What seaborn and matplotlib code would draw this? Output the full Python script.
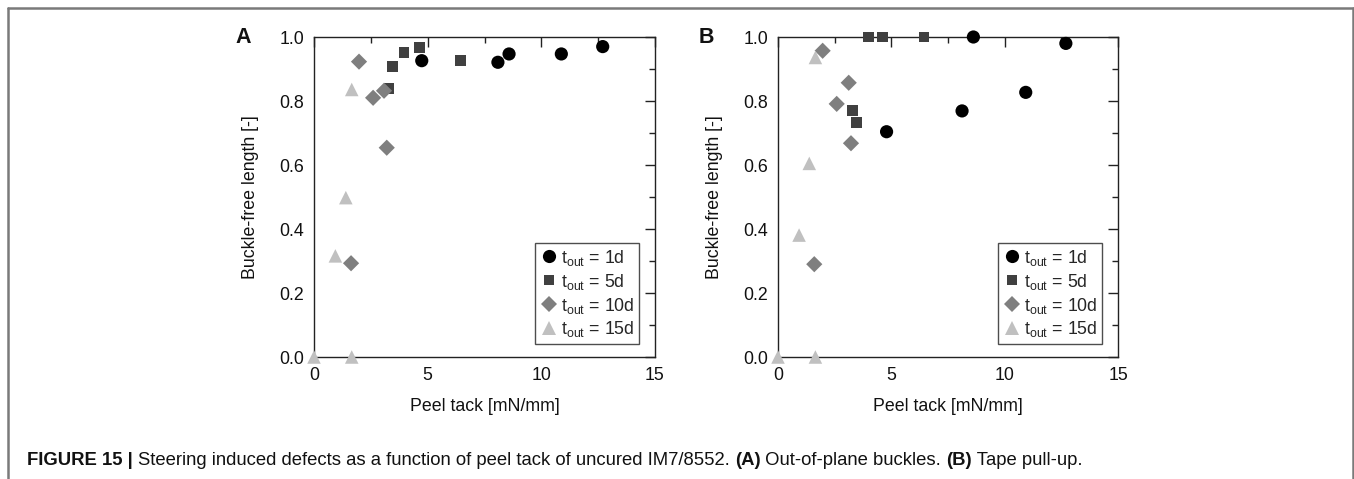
import numpy as np
import pandas as pd
import seaborn as sns
import matplotlib
matplotlib.use("Agg")
import matplotlib.pyplot as plt
from matplotlib.lines import Line2D
from matplotlib.ticker import MultipleLocator

# ---------------- data ----------------
labels = [r"$\mathregular{t_{out}}$ = 1d", r"$\mathregular{t_{out}}$ = 5d",
          r"$\mathregular{t_{out}}$ = 10d", r"$\mathregular{t_{out}}$ = 15d"]

# Panel A: out-of-plane buckles
A_1d_x = [4.74, 8.09, 8.58, 10.88, 12.70]
A_1d_y = [0.926, 0.921, 0.947, 0.947, 0.970]
A_5d_x = [3.30, 3.47, 3.96, 4.64, 6.43]
A_5d_y = [0.840, 0.909, 0.951, 0.967, 0.926]
A_10d_x = [1.98, 2.60, 3.08, 3.20, 1.63]
A_10d_y = [0.923, 0.810, 0.832, 0.654, 0.293]
A_15d_x = [1.66, 1.40, 0.94, 0.0, 1.66]
A_15d_y = [0.836, 0.498, 0.316, 0.0, 0.0]

# Panel B: tape pull-up
B_1d_x = [4.79, 8.12, 8.62, 10.93, 12.70]
B_1d_y = [0.704, 0.769, 1.0, 0.827, 0.980]
B_5d_x = [4.01, 4.63, 6.44, 3.28, 3.48]
B_5d_y = [1.0, 1.0, 1.0, 0.770, 0.733]
B_10d_x = [1.97, 3.12, 2.59, 3.22, 1.60]
B_10d_y = [0.957, 0.857, 0.791, 0.668, 0.290]
B_15d_x = [1.65, 1.38, 0.93, 0.0, 1.65]
B_15d_y = [0.936, 0.605, 0.381, 0.0, 0.0]

x_ticks = [0, 5, 10, 15]
y_ticks = [0.0, 0.2, 0.4, 0.6, 0.8, 1.0]

# ---------------- style ----------------
sns.set_theme(style="white")
plt.rcParams["font.family"] = ["Liberation Sans", "DejaVu Sans"]
plt.rcParams["mathtext.fontset"] = "custom"
plt.rcParams["mathtext.rm"] = "Liberation Sans"

palette = dict(zip(labels, ["#000000", "#404040", "#7f7f7f", "#c0c0c0"]))
markers = dict(zip(labels, ["o", "s", "D", "^"]))
sizes = dict(zip(labels, [90, 62, 68, 95]))


def make_df(xs, ys):
    rows = []
    for lab, x, y in zip(labels, xs, ys):
        for xi, yi in zip(x, y):
            rows.append({"x": xi, "y": yi, "series": lab})
    return pd.DataFrame(rows)


dfA = make_df([A_1d_x, A_5d_x, A_10d_x, A_15d_x], [A_1d_y, A_5d_y, A_10d_y, A_15d_y])
dfB = make_df([B_1d_x, B_5d_x, B_10d_x, B_15d_x], [B_1d_y, B_5d_y, B_10d_y, B_15d_y])

W, H = 1354, 479
fig = plt.figure(figsize=(W / 100, H / 100), dpi=100)
fig.patch.set_facecolor("white")


def px_rect(l, r, t, b):
    return [l / W, 1 - b / H, (r - l) / W, (b - t) / H]


axA = fig.add_axes(px_rect(314, 655, 37, 357))
axB = fig.add_axes(px_rect(778, 1118, 37, 357))

for ax, df, letter, lx in [(axA, dfA, "A", 235), (axB, dfB, "B", 699)]:
    sns.scatterplot(data=df, x="x", y="y", hue="series", style="series", size="series",
                    palette=palette, markers=markers, sizes=sizes,
                    hue_order=labels, style_order=labels, size_order=labels,
                    edgecolor="none", linewidth=0, clip_on=False, zorder=3, ax=ax)
    ax.set_xlim(0, 15)
    ax.set_ylim(0, 1.0)
    ax.set_xticks(x_ticks)
    ax.set_yticks(y_ticks)
    ax.set_xticklabels([str(v) for v in x_ticks])
    ax.set_yticklabels([f"{v:.1f}" for v in y_ticks])
    ax.xaxis.set_minor_locator(MultipleLocator(2.5))
    ax.yaxis.set_minor_locator(MultipleLocator(0.1))
    ax.tick_params(which="both", direction="in", top=True, right=True,
                   color="#222222", width=1.0)
    ax.tick_params(which="major", length=7, labelsize=12.8, pad=7, labelcolor="#111111")
    ax.tick_params(which="minor", length=4)
    for sp in ax.spines.values():
        sp.set_color("#222222")
        sp.set_linewidth(1.0)
    ax.set_xlabel("Peel tack [mN/mm]", fontsize=12.8, labelpad=10, color="#111111")
    ax.set_ylabel("Buckle-free length [-]", fontsize=12.8, labelpad=15, color="#111111")
    ax.set_facecolor("white")
    leg = ax.legend(loc="lower right", bbox_to_anchor=(0.953, 0.041), borderaxespad=0,
                    frameon=True, fancybox=False, fontsize=12.8, labelspacing=0.22,
                    handletextpad=0.1, handlelength=1.1, borderpad=0.25, markerscale=1.0)
    leg.get_frame().set_edgecolor("#222222")
    leg.get_frame().set_linewidth(1.0)
    fig.text(lx / W, 1 - 43 / H, letter, fontsize=15.5, fontweight="bold",
             ha="left", va="baseline", color="#111111")

# frame lines
fc = "#7a7a7a"
fig.add_artist(Line2D([8 / W, 1353 / W], [1 - 8 / H, 1 - 8 / H], transform=fig.transFigure,
                      color=fc, lw=1.8))
fig.add_artist(Line2D([8 / W, 8 / W], [1 - 8 / H, 0], transform=fig.transFigure, color=fc, lw=1.8))
fig.add_artist(Line2D([1353 / W, 1353 / W], [1 - 8 / H, 0], transform=fig.transFigure,
                      color=fc, lw=1.8))

# caption with mixed bold
pieces = [("FIGURE 15 | ", "bold"),
          ("Steering induced defects as a function of peel tack of uncured IM7/8552. ", "normal"),
          ("(A)", "bold"), (" Out-of-plane buckles. ", "normal"),
          ("(B)", "bold"), (" Tape pull-up.", "normal")]
renderer = fig.canvas.get_renderer()
xpos = 27
for txt, wt in pieces:
    t = fig.text(xpos / W, 1 - 465 / H, txt, fontsize=13.3, fontweight=wt,
                 ha="left", va="baseline", color="#111111")
    bb = t.get_window_extent(renderer=renderer)
    xpos += bb.width

fig.savefig("out.png", dpi=100, facecolor="white")
